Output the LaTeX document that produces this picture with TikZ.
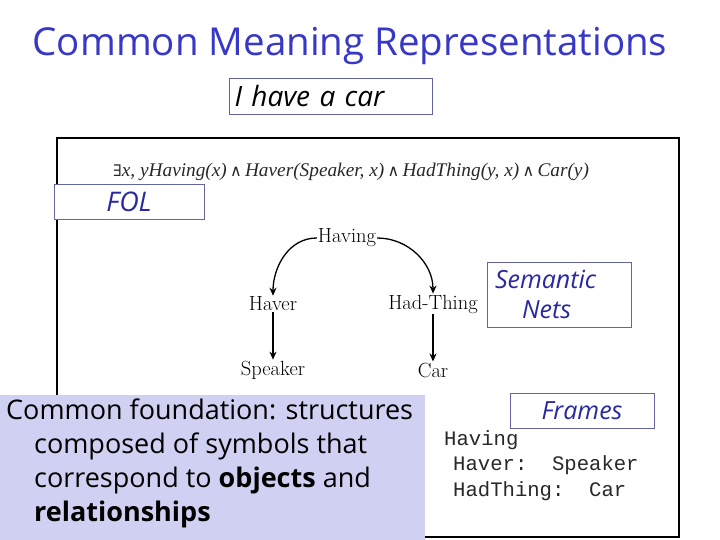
\documentclass[tikz,border=0pt]{standalone}
\usepackage{fontspec}
\setmainfont{Latin Modern Roman}
\newfontfamily\comic{Open Sans}
\newfontfamily\timesf{Liberation Serif}
\newfontfamily\courf{Liberation Mono}
\newfontfamily\symf{DejaVu Serif}
\usetikzlibrary{arrows.meta}
\definecolor{titleblue}{RGB}{55,55,200}
\definecolor{lblblue}{RGB}{40,40,160}
\definecolor{boxline}{RGB}{100,100,160}
\definecolor{lavender}{RGB}{208,208,242}
\definecolor{inkgray}{RGB}{40,40,40}
\newcommand{\myand}{\,{\symf\fontsize{16}{20}\selectfont ∧}\,}
\tikzset{
  lbl/.style={draw=boxline, line width=0.8pt, text=lblblue, font=\comic\itshape\fontsize{25}{30}\selectfont, inner sep=0pt, align=center},
  net/.style={font=\fontsize{20.5}{22}\selectfont, text=black, inner sep=1pt},
  arr/.style={-{Stealth[length=8pt,width=7pt]}, line width=1.3pt, black},
  frm/.style={font=\courf\fontsize{20.6}{24}\selectfont, text=inkgray, anchor=west, inner sep=0pt}
}
\begin{document}
\begin{tikzpicture}[x=1pt,y=-1pt]
\useasboundingbox (0,0) rectangle (720,540);
\fill[white] (0,0) rectangle (720,540);
% title
\node[text=titleblue, font=\comic\fontsize{38.5}{42}\selectfont] (title) at (350,46) {Common Meaning Representations};
% sentence box
\node[draw=boxline, line width=0.8pt, minimum width=203pt, minimum height=36pt, text width=192pt, align=left, inner sep=0pt, font=\comic\itshape\fontsize{28}{30}\selectfont] (sent) at (330.5,96) {I have a car};
% big frame
\draw[line width=2pt] (57,138) rectangle (679,537);
% FOL formula
\node[font=\timesf\itshape\fontsize{19.3}{20}\selectfont, text=inkgray, anchor=west, inner sep=0pt] (fol) at (113,172)
  {{\symf\upshape\fontsize{16}{20}\selectfont ∃}x, yHaving(x)\myand Haver(Speaker, x)\myand HadThing(y, x)\myand Car(y)};
\node[lbl, fill=white, minimum width=150pt, minimum height=35pt, font=\comic\itshape\fontsize{27}{30}\selectfont] (folbox) at (129,201.5) {FOL};
% semantic net
\node[net] (having) at (347,238) {Having};
\node[net] (haver) at (273,304) {Haver};
\node[net] (hadthing) at (433,304) {Had-Thing};
\node[net] (speaker) at (273,370) {Speaker};
\node[net] (car) at (433,370) {Car};
\draw[arr] (having.west) to[out=180,in=90] (haver.north);
\draw[arr] (having.east) to[out=0,in=90] (hadthing.north);
\draw[arr] (haver.south) -- (speaker.north);
\draw[arr] (hadthing.south) -- (car.north);
\node[lbl, minimum width=144pt, minimum height=65pt, text width=124pt, align=left] (netbox) at (559,294.5) {\hspace*{-2pt}Semantic\\\hspace*{25pt}Nets};
% frames
\node[lbl, minimum width=144pt, minimum height=35pt] (frbox) at (582,410.5) {Frames};
\node[frm] (f1) at (444,440) {Having};
\node[frm] (f2) at (453,465) {Haver:\ \ Speaker};
\node[frm] (f3) at (453,491) {HadThing:\ \ Car};
% foundation box
\fill[lavender] (0,395) rectangle (425,540);
\node[anchor=north west, inner sep=0pt, align=left, font=\comic\fontsize{27}{34}\selectfont, text=black] (found) at (6,399)
  {Common foundation: structures\\
   \hspace*{28pt}composed of symbols that\\
   \hspace*{28pt}correspond to \textbf{objects} and\\
   \hspace*{28pt}\textbf{relationships}};
\end{tikzpicture}
\end{document}
